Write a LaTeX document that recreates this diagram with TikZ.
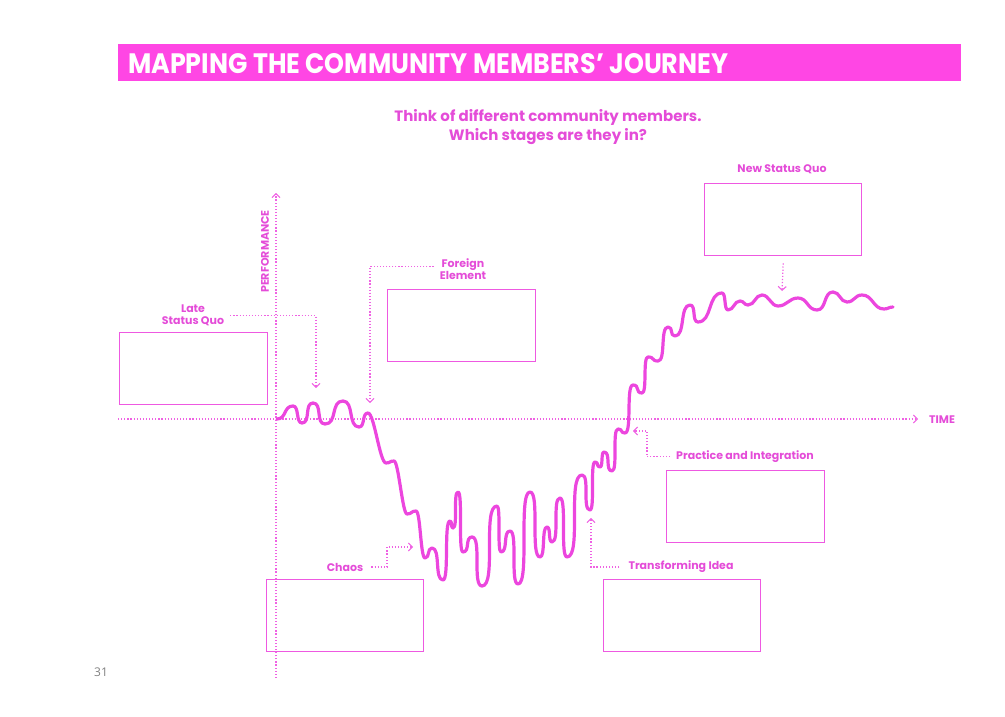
\documentclass[tikz,border=0pt]{standalone}
\usepackage{fontspec}
\setmainfont{Poppins}
\newfontfamily\numfont{Open Sans}
\usetikzlibrary{arrows.meta}
\definecolor{mag}{RGB}{236,70,222}
\definecolor{bar}{RGB}{255,70,228}
\definecolor{txt}{RGB}{228,76,216}
\tikzset{
  dots/.style={draw=mag!85, line width=1.25pt, dash pattern=on 1.2pt off 1.9pt},
  tipped/.style={dots, -{Straight Barb[length=3.8pt,width=8pt,line width=1.1pt]}},
  answer/.style={draw=mag!90, line width=1.4pt, minimum width=#1, minimum height=72pt, inner sep=0pt},
  lbl/.style={text=txt, font=\bfseries\fontsize{11}{12}\selectfont, align=center, inner sep=0pt},
}
\begin{document}
\begin{tikzpicture}[x=1pt,y=-1pt]
\useasboundingbox (0,0) rectangle (1005,717);
% title
\node[fill=bar, minimum width=843pt, minimum height=37pt, inner sep=0pt, anchor=north west] (bar) at (118,44) {};
\node[anchor=west, text=white, inner sep=0pt] (title) at (128,63.5)
  {\resizebox{600pt}{20pt}{\bfseries MAPPING THE COMMUNITY MEMBERS’ JOURNEY}};
\node[text=txt, font=\bfseries\fontsize{15}{19}\selectfont, align=center, inner sep=0pt] (sub) at (548,127.5)
  {Think of different community members.\\Which stages are they in?};
% axes
\coordinate (ybot) at (276,678);
\coordinate (ytop) at (276,193);
\coordinate (xl) at (118,419);
\coordinate (xr) at (918,419);
\draw[tipped] (ybot) -- (ytop);
\draw[tipped] (xl) -- (xr);
\node[lbl, rotate=90] (perf) at (265,251.5) {PERFORMANCE};
\node[lbl, anchor=west] (time) at (929,419.5) {TIME};
% boxes
\node[answer=148pt, anchor=north west] (b1) at (119,332) {};
\node[answer=148pt, anchor=north west] (b2) at (387,289) {};
\node[answer=157pt, anchor=north west] (b3) at (704,183) {};
\node[answer=158pt, anchor=north west] (b4) at (666,470) {};
\node[answer=157pt, anchor=north west] (b5) at (266,579) {};
\node[answer=157pt, anchor=north west] (b6) at (603,579) {};
% labels
\node[lbl] (l1) at (193,315.5) {Late\\Status Quo};
\node[lbl] (l2) at (463,269.5) {Foreign\\Element};
\node[lbl] (l3) at (782,169) {New Status Quo};
\node[lbl] (l4) at (745,456.5) {Practice and Integration};
\node[lbl] (l5) at (345,567) {Chaos};
\node[lbl] (l6) at (681,567) {Transforming Idea};
% connector ends
\coordinate (t1) at (316,388);
\coordinate (t2) at (370,403);
\coordinate (t3) at (782,291);
\coordinate (k4) at (647,431);
\coordinate (t4) at (633,431);
\coordinate (k5) at (387,547);
\coordinate (t5) at (413,547);
\coordinate (t6) at (591,518);
\draw[tipped] ([xshift=6pt]l1.east) -| (t1);
\draw[tipped] ([xshift=-6pt,yshift=3pt]l2.west) -| (t2);
\draw[tipped] ([yshift=-7pt]b3.south) -- (t3);
\draw[tipped] ([xshift=-6pt]l4.west) -| (k4) -- (t4);
\draw[tipped] ([xshift=8pt]l5.east) -| (k5) -- (t5);
\draw[tipped] ([xshift=-9pt]l6.west) -| (t6);
% journey curve: horizontal tangents at every turning point, per-segment roundness
\draw[mag, line width=3.2pt, line cap=round, line join=round] (277,419)
 \foreach \x/\y/\a [remember=\x as \px (initially 277), remember=\y as \py (initially 419)] in {
  293/406/0.6, 302/423/0.7, 313/403/0.8, 325/424/0.8, 343/401/0.7, 359/427/0.7, 368/413/0.7,
  386/463/0.35, 394/461/0.6, 407/514/0.35, 416/511/0.6, 425/558/0.5, 432/548/0.7, 443/580/0.8,
  450/521/0.9, 453/528/0.8, 458/492/1, 463/552/1, 472/537/0.8, 482/586/1, 497/506/1,
  501/552/1, 510/531/0.8, 518/584/1, 530/492/1, 540/557/1, 547/527/0.8, 552/542/0.8,
  560/498/1, 567/557/1, 582/475/1, 590/510/1, 595/462/1, 600/467/0.8, 604/452/0.8,
  612/471/0.9, 618/429/1, 625/433/0.7, 633/385/0.9, 642/393/0.8, 648/357/0.9, 658/361/0.7,
  668/327/0.8, 675/336/0.8, 690/305/0.7, 698/322/0.8, 722/293/0.6, 728/310/0.7, 740/301/0.5,
  748/305/0.5, 762/295/0.5, 778/306/0.45, 798/298/0.45, 817/310/0.5, 833/292/0.6, 847/302/0.5,
  862/295/0.5, 884/309/0.5, 893/307/0.5}
 { .. controls ({\px+\a*(\x-\px)},\py) and ({\x-\a*(\x-\px)},\y) .. (\x,\y) };
% page number
\node[text=black!50, font=\numfont\fontsize{12}{12}\selectfont, inner sep=0pt] (pg) at (101,672) {31};
\end{tikzpicture}
\end{document}
